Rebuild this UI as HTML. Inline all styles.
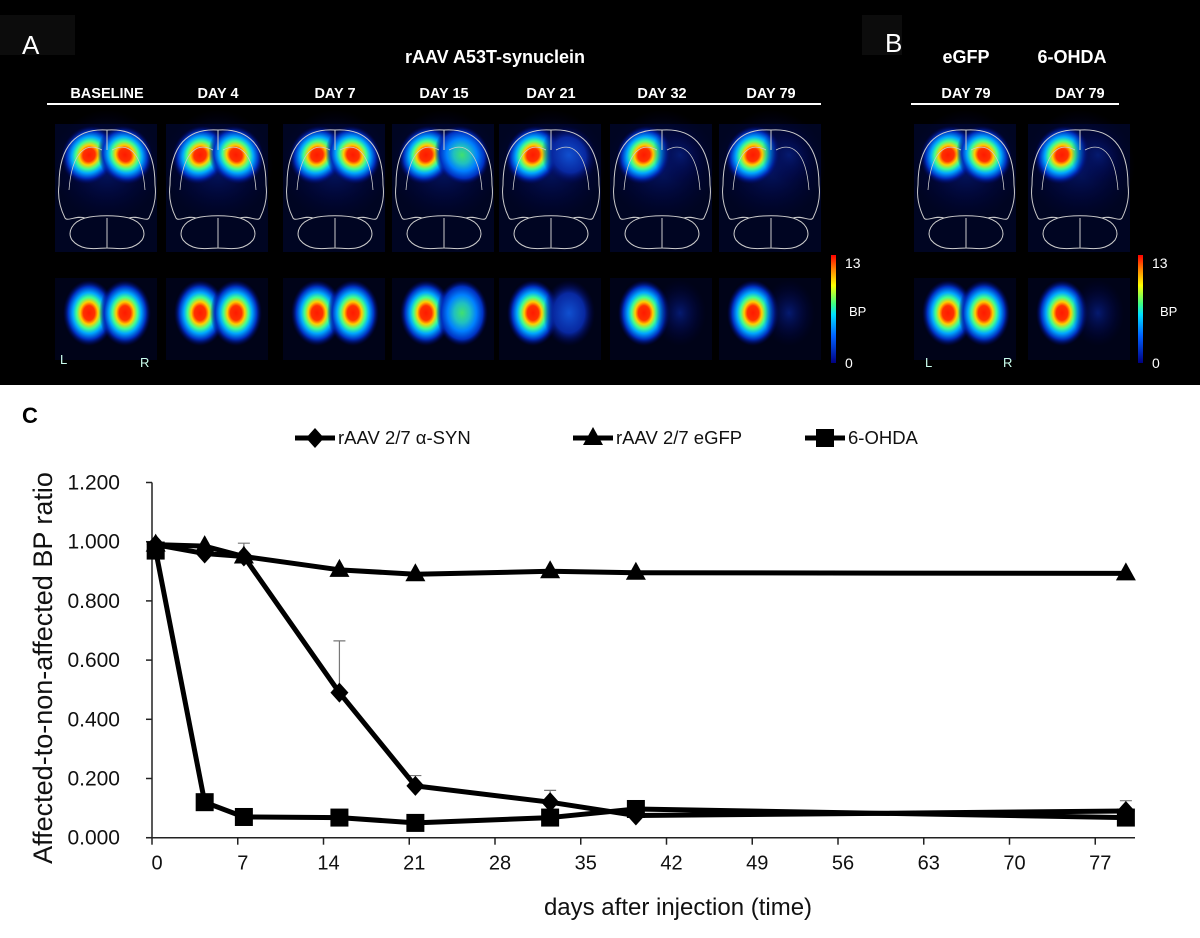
<!DOCTYPE html>
<html><head><meta charset="utf-8"><style>
html,body{margin:0;padding:0;background:#fff;}
#root{position:relative;width:1200px;height:938px;overflow:hidden;font-family:"Liberation Sans",sans-serif;}
svg text{font-family:"Liberation Sans",sans-serif;}
</style></head><body>
<div id="root">
<svg id="top" width="1200" height="385" style="position:absolute;left:0;top:0">
<defs>
<radialGradient id="jetFull"><stop offset="0%" stop-color="#ff1a00"/><stop offset="22%" stop-color="#ff3000"/><stop offset="34%" stop-color="#ffd000"/><stop offset="48%" stop-color="#40ff90"/><stop offset="62%" stop-color="#00a8ff"/><stop offset="80%" stop-color="#0030c0"/><stop offset="100%" stop-color="#000060" stop-opacity="0"/></radialGradient>
<radialGradient id="jetMid"><stop offset="0%" stop-color="#40e070"/><stop offset="30%" stop-color="#20c0c0"/><stop offset="55%" stop-color="#0080ff"/><stop offset="80%" stop-color="#0030c0"/><stop offset="100%" stop-color="#000060" stop-opacity="0"/></radialGradient>
<radialGradient id="jetLow"><stop offset="0%" stop-color="#1050d0"/><stop offset="60%" stop-color="#0828a0"/><stop offset="100%" stop-color="#000050" stop-opacity="0"/></radialGradient>
<radialGradient id="jetNone"><stop offset="0%" stop-color="#051a70"/><stop offset="100%" stop-color="#000040" stop-opacity="0"/></radialGradient>
<linearGradient id="cbar" x1="0" y1="1" x2="0" y2="0"><stop offset="0%" stop-color="#000080"/><stop offset="25%" stop-color="#0060ff"/><stop offset="45%" stop-color="#00e0ff"/><stop offset="55%" stop-color="#40ff80"/><stop offset="72%" stop-color="#ffff00"/><stop offset="87%" stop-color="#ff8000"/><stop offset="100%" stop-color="#ff0000"/></linearGradient>
</defs>
<rect x="0" y="0" width="1200" height="385" fill="#000"/>
<rect x="0" y="15" width="75" height="40" fill="#0c0c0c"/>
<text x="22" y="54" fill="#fff" font-size="26">A</text>
<rect x="862" y="15" width="40" height="40" fill="#0c0c0c"/>
<text x="885" y="52" fill="#fff" font-size="26">B</text>
<text x="495" y="63" fill="#fff" font-size="18" font-weight="bold" text-anchor="middle">rAAV  A53T-synuclein</text>
<text x="966" y="63" fill="#fff" font-size="18" font-weight="bold" text-anchor="middle">eGFP</text>
<text x="1072" y="63" fill="#fff" font-size="18" font-weight="bold" text-anchor="middle">6-OHDA</text>
<line x1="47" y1="104" x2="821" y2="104" stroke="#fff" stroke-width="2"/>
<line x1="911" y1="104" x2="1119" y2="104" stroke="#fff" stroke-width="2"/>
<g id="tiles"></g>
<g><rect x="831" y="255" width="5" height="108" fill="url(#cbar)"/><text x="845" y="268" fill="#fff" font-size="14">13</text><text x="849" y="316" fill="#fff" font-size="13">BP</text><text x="845" y="368" fill="#fff" font-size="14">0</text></g>
<g><rect x="1138" y="255" width="5" height="108" fill="url(#cbar)"/><text x="1152" y="268" fill="#fff" font-size="14">13</text><text x="1160" y="316" fill="#fff" font-size="13">BP</text><text x="1152" y="368" fill="#fff" font-size="14">0</text></g>
<text x="60" y="364" fill="#cfe" font-size="13">L</text>
<text x="140" y="367" fill="#cfe" font-size="13">R</text>
<text x="925" y="367" fill="#cfe" font-size="13">L</text>
<text x="1003" y="367" fill="#cfe" font-size="13">R</text>
</svg>

<svg id="chart" width="1200" height="553" style="position:absolute;left:0;top:385">
<g transform="translate(0,-385)" id="cg">
<text x="22" y="423" font-size="22" font-weight="bold">C</text>
<text transform="translate(52,668) rotate(-90)" text-anchor="middle" font-size="27" fill="#111">Affected-to-non-affected BP ratio</text>
<text x="678" y="915" text-anchor="middle" font-size="24" fill="#111">days after injection (time)</text>
</g>
</svg>
</div>
<script>
// ----- top panel tiles -----
const tileCenters=[107,218,335,444,551,662,771,966,1080];
const tileLabels=["BASELINE","DAY 4","DAY 7","DAY 15","DAY 21","DAY 32","DAY 79","DAY 79","DAY 79"];
const rightIntensity=["jetFull","jetFull","jetFull","jetMid","jetLow","jetNone","jetNone","jetFull","jetNone"];
const NS="http://www.w3.org/2000/svg";
function mk(tag,attrs,parent){const e=document.createElementNS(NS,tag);for(const k in attrs)e.setAttribute(k,attrs[k]);parent.appendChild(e);return e;}
const tiles=document.getElementById('tiles');
tileCenters.forEach((c,i)=>{
  const g=mk('g',{},tiles);
  
  
  const t=mk('text',{x:c,y:98,fill:'#fff','font-size':14.5,'font-weight':'bold','text-anchor':'middle'},g);t.textContent=tileLabels[i];
  mk('rect',{x:c-52,y:124,width:102,height:128,fill:'#000522'},g);
  mk('ellipse',{cx:c,cy:165,rx:55,ry:55,fill:'url(#jetNone)'},g);
  mk('ellipse',{cx:c-18,cy:155,rx:27,ry:30,fill:'url(#jetFull)',transform:`rotate(30 ${c-18} 155)`},g);
  mk('ellipse',{cx:c+18,cy:155,rx:27,ry:30,fill:'url(#'+rightIntensity[i]+')',transform:`rotate(-30 ${c+18} 155)`},g);
  mk('path',{d:`M${c} 130 C${c-30} 128 ${c-48} 145 ${c-48} 185 C${c-50} 200 ${c-45} 212 ${c-42} 218 C${c-40} 222 ${c-30} 215 ${c-22} 218 C${c-35} 222 ${c-40} 232 ${c-35} 240 C${c-25} 252 ${c-10} 248 ${c} 248 C${c+10} 248 ${c+25} 252 ${c+35} 240 C${c+40} 232 ${c+35} 222 ${c+22} 218 C${c+30} 215 ${c+40} 222 ${c+42} 218 C${c+45} 212 ${c+50} 200 ${c+48} 185 C${c+48} 145 ${c+30} 128 ${c} 130 Z M${c} 130 L${c} 150 M${c} 218 L${c} 248 M${c-22} 218 C${c-10} 215 ${c+10} 215 ${c+22} 218`,fill:'none',stroke:'#ccc','stroke-width':1},g);
  mk('path',{d:`M${c-5} 150 C${c-20} 142 ${c-35} 150 ${c-38} 190 M${c+5} 150 C${c+20} 142 ${c+35} 150 ${c+38} 190`,fill:'none',stroke:'#ccc','stroke-width':0.8},g);
  mk('rect',{x:c-52,y:278,width:102,height:82,fill:'#000318'},g);
  mk('ellipse',{cx:c-18,cy:313,rx:26,ry:33,fill:'url(#jetFull)'},g);
  mk('ellipse',{cx:c+18,cy:313,rx:26,ry:33,fill:'url(#'+rightIntensity[i]+')'},g);
});

// ----- chart data -----
const daysSyn=[0.3,4.3,7.5,15.3,21.5,32.5,39.5,79.5];
const valSyn=[0.99,0.96,0.95,0.49,0.175,0.12,0.075,0.09];
const errSyn=[0,0,0.045,0.175,0.035,0.04,0,0.035];
const daysGfp=[0.3,4.3,7.5,15.3,21.5,32.5,39.5,79.5];
const valGfp=[0.99,0.985,0.95,0.905,0.89,0.90,0.895,0.893];
const daysOhda=[0.3,4.3,7.5,15.3,21.5,32.5,39.5,79.5];
const valOhda=[0.97,0.12,0.07,0.068,0.05,0.068,0.097,0.068];
const xTicks=[0,7,14,21,28,35,42,49,56,63,70,77];
const yTicks=[0,0.2,0.4,0.6,0.8,1.0,1.2];
const yTickLabels=["0.000","0.200","0.400","0.600","0.800","1.000","1.200"];

const X0=152,PXD=12.25,Y0=837.7,PXV=296;
const xS=d=>X0+d*PXD, yS=v=>Y0-v*PXV;
const cg=document.getElementById('cg');
const ax=mk('line',{x1:X0,y1:yS(1.2),x2:X0,y2:Y0,stroke:'#222','stroke-width':1.5},cg);

const axx=mk('line',{x1:X0-6,y1:Y0,x2:1135,y2:Y0,stroke:'#222','stroke-width':1.5},cg);

yTicks.forEach((v,i)=>{
  mk('line',{x1:X0-6,y1:yS(v),x2:X0,y2:yS(v),stroke:'#222','stroke-width':1.5},cg);
  const t=mk('text',{x:120,y:yS(v)+7,'font-size':21,'text-anchor':'end',fill:'#111'},cg);
  
  
  t.textContent=yTickLabels[i];
});
xTicks.forEach(d=>{
  mk('line',{x1:xS(d),y1:Y0,x2:xS(d),y2:Y0+7,stroke:'#222','stroke-width':1.5},cg);
  const t=mk('text',{x:xS(d)+5,y:Y0+32,'font-size':20,'text-anchor':'middle',fill:'#111'},cg);
  
  
  t.textContent=d;
});
daysSyn.forEach((d,i)=>{ if(errSyn[i]>0){
  const top=yS(valSyn[i]+errSyn[i]);
  const e=mk('path',{d:`M${xS(d)} ${yS(valSyn[i])} L${xS(d)} ${top} M${xS(d)-6} ${top} L${xS(d)+6} ${top}`,stroke:'#777','stroke-width':1.2,fill:'none'},cg);
  
  
}});
function marker(kind,x,y,parent){
  if(kind==='diamond') return mk('path',{d:`M${x} ${y-10} L${x+9} ${y} L${x} ${y+10} L${x-9} ${y} Z`,fill:'#000'},parent);
  if(kind==='triangle') return mk('path',{d:`M${x} ${y-11} L${x+10} ${y+7} L${x-10} ${y+7} Z`,fill:'#000'},parent);
  return mk('rect',{x:x-9,y:y-9,width:18,height:18,fill:'#000'},parent);
}
function series(days,vals,kind,name){
  const g=mk('g',{},cg);
  
  
  mk('polyline',{points:days.map((d,i)=>xS(d)+','+yS(vals[i])).join(' '),fill:'none',stroke:'#000','stroke-width':5,'stroke-linejoin':'round'},g);
  days.forEach((d,i)=>{const m=marker(kind,xS(d),yS(vals[i]),g);
    
    });
}
series(daysOhda,valOhda,'square','series-6-ohda');
series(daysGfp,valGfp,'triangle','series-egfp');
series(daysSyn,valSyn,'diamond','series-alpha-syn');
const legendItems=[["rAAV 2/7 α-SYN",'diamond',295],["rAAV 2/7 eGFP",'triangle',573],["6-OHDA",'square',805]];
legendItems.forEach(it=>{
  const g=mk('g',{},cg);
  
  
  mk('line',{x1:it[2],y1:438,x2:it[2]+40,y2:438,stroke:'#000','stroke-width':5},g);
  marker(it[1],it[2]+20,438,g);
  const t=mk('text',{x:it[2]+43,y:444,'font-size':18.5,fill:'#111'},g);t.textContent=it[0];
});
</script>
</body></html>
